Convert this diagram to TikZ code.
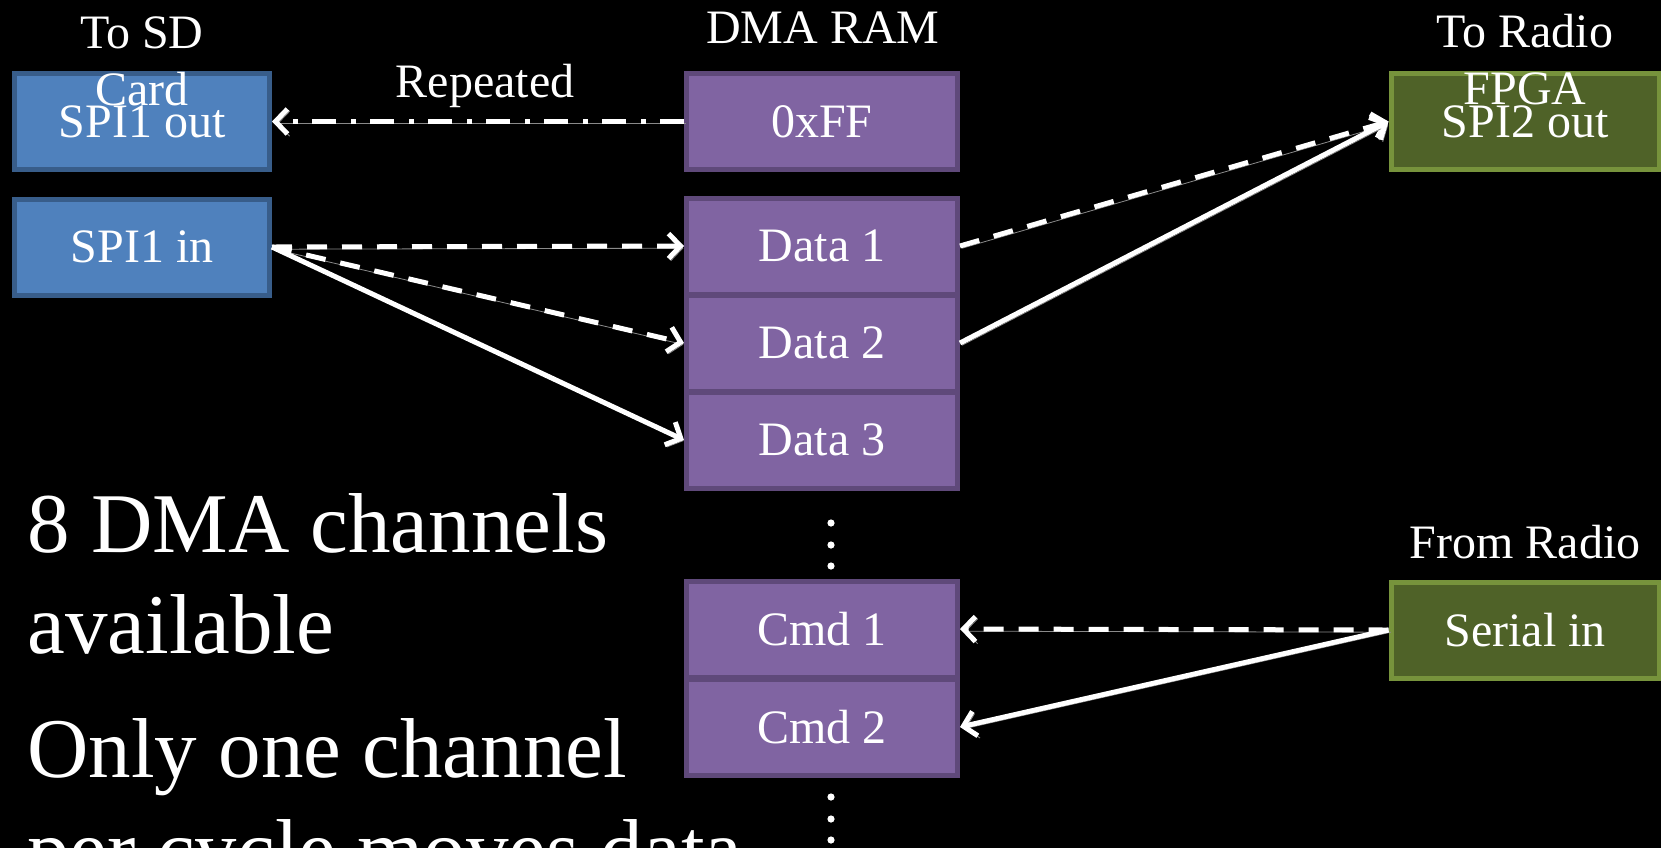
\documentclass[tikz,border=0pt]{standalone}
\usepackage{fontspec}
\setmainfont{Liberation Serif}
\usetikzlibrary{arrows.meta}
\definecolor{sdfill}{HTML}{4F81BD}
\definecolor{sdline}{HTML}{385D8A}
\definecolor{ramfill}{HTML}{8064A2}
\definecolor{ramline}{HTML}{5F497A}
\definecolor{radiofill}{HTML}{4F6228}
\definecolor{radioline}{HTML}{77933C}
\definecolor{shade}{HTML}{8A8A8A}

\begin{document}
\begin{tikzpicture}[x=0.5pt,y=-0.5pt,
  cell/.style={draw, line width=2.5pt, minimum height=48pt, inner sep=0pt,
    text=white, font=\fontsize{24}{28.8}\selectfont},
  sdbox/.style={cell, fill=sdfill, draw=sdline, minimum width=127.5pt},
  rambox/.style={cell, fill=ramfill, draw=ramline, minimum width=135.5pt},
  radiobox/.style={cell, fill=radiofill, draw=radioline, minimum width=134pt},
  lbl/.style={text=white, font=\fontsize{24}{28.5}\selectfont, align=center,
    inner sep=0pt, anchor=base},
  body/.style={text=white, font=\fontsize{42.5}{50.5}\selectfont, align=left,
    inner sep=0pt, anchor=base west},
  flow/.style={white, line width=2.5pt, line join=round,
    -{Straight Barb[length=6pt,width=12.5pt]},
    preaction={draw=shade, transform canvas={shift={(1.1pt,-1.1pt)}}}},
  dashflow/.style={flow, dash pattern=on 10pt off 7.5pt},
  dotflow/.style={flow, dash pattern=on 12pt off 7pt on 2.5pt off 7.5pt},
  dot/.style={white}
]
\fill[black] (0,0) rectangle (1661,848);
\useasboundingbox (0,0) rectangle (1661,848);
\clip (0,0) rectangle (1661,848);

% SD card side
\node[sdbox] (spiout) at (142,121.5) {SPI1 out};
\node[sdbox] (spiin)  at (142,247)   {SPI1 in};

% DMA RAM column
\node[rambox] (ff)    at (822,121.5) {0xFF};
\node[rambox] (data1) at (822,246)   {Data 1};
\node[rambox] (data2) at (822,343)   {Data 2};
\node[rambox] (data3) at (822,440)   {Data 3};
\node[rambox] (cmd1)  at (822,629)   {Cmd 1};
\node[rambox] (cmd2)  at (822,727)   {Cmd 2};

% Radio FPGA side
\node[radiobox] (spi2)   at (1525,121.5) {SPI2 out};
\node[radiobox] (serial) at (1525,630)   {Serial in};

% Column captions (base anchor sits on the last line)
\node[lbl] (capsd)    at (142,105)  {To SD\\Card};
\node[lbl] (capram)   at (823,43)   {DMA RAM};
\node[lbl] (capradio) at (1525,104) {To Radio\\FPGA};
\node[lbl] (capfrom)  at (1525,558) {From Radio};
\node[lbl] (caprep)   at (485,97)   {Repeated};

% Continuation marks in the RAM column
\foreach \y in {523,545,566,797,819,840}
  \fill[dot] (831,\y) circle (1.8pt);

% Transfers
\draw[dotflow]  (ff.west)     -- (spiout.east);
\draw[dashflow] (spiin.east)  -- (data1.west);
\draw[dashflow] (spiin.east)  -- (data2.west);
\draw[flow]     (spiin.east)  -- (data3.west);
\draw[dashflow] (data1.east)  -- (spi2.west);
\draw[flow]     (data2.east)  -- (spi2.west);
\draw[dashflow] (serial.west) -- (cmd1.east);
\draw[flow]     (serial.west) -- (cmd2.east);

% Notes
\node[body] (note1) at (27,653) {8 DMA channels\\available};
\node[body] (note2) at (27,878) {Only one channel\\per cycle moves data};
\end{tikzpicture}
\end{document}
